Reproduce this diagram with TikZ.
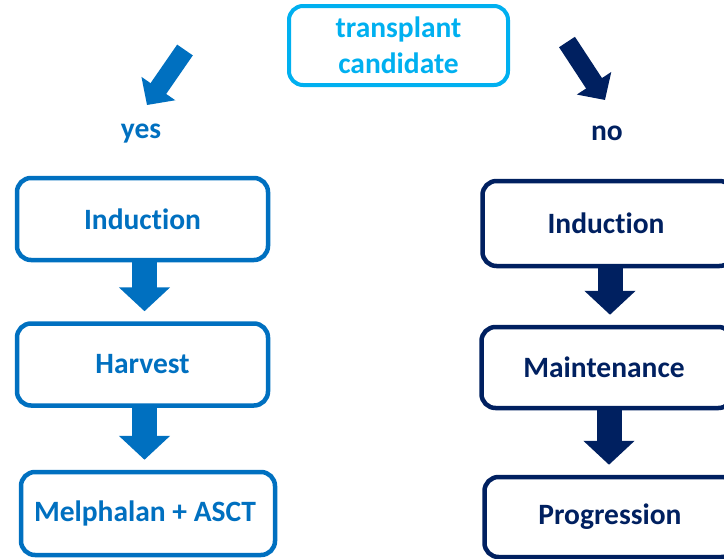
\documentclass[tikz,border=0pt]{standalone}
\usepackage{fontspec}
\setmainfont{Carlito}[Ligatures=CommonOff]
\usetikzlibrary{arrows.meta}
\definecolor{candcyan}{HTML}{00B0F0}
\definecolor{yesblue}{HTML}{0070C0}
\definecolor{nonavy}{HTML}{002060}
\tikzset{
	stagebox/.style={draw=#1, text=#1, fill=white, line width=4.5pt, rounded corners=14pt,
		minimum width=251pt, minimum height=82pt, align=center,
		font=\fontsize{29.5}{36}\selectfont\bfseries},
	branchlabel/.style={text=#1, font=\fontsize{29.5}{36}\selectfont\bfseries},
	downarrow/.style={draw=#1, line width=25pt, -{Triangle[width=50pt,length=24pt]}, shorten >=10pt},
	slantarrow/.style={draw=#1, line width=19pt, -{Triangle[width=40pt,length=20pt]}}
}

\begin{document}
\begin{tikzpicture}[x=1pt,y=-1pt]
	\useasboundingbox (0,0) rectangle (724,558);
	% top question
	\node[stagebox=candcyan, line width=4pt, minimum width=219pt, minimum height=79pt] (cand) at (398.5,45.5) {transplant\\candidate};
	\node[branchlabel=yesblue] (yes) at (141,134) {yes};
	\node[branchlabel=nonavy] (no) at (607,133) {no};
	\coordinate (yestail) at (185,50);
	\coordinate (yestip) at (147,105);
	\coordinate (notail) at (567,42);
	\coordinate (notip) at (605,100);
	\draw[slantarrow=yesblue] (yestail) -- (yestip);
	\draw[slantarrow=nonavy] (notail) -- (notip);
	% yes branch
	\node[stagebox=yesblue] (ind1) at (142.5,219) {Induction};
	\node[stagebox=yesblue] (har1) at (142.5,364.5) {Harvest};
	\node[stagebox=yesblue, minimum width=254pt, minimum height=83pt] (mel1) at (148,513.5) {Melphalan + ASCT\hspace*{6pt}};
	% no branch
	\node[stagebox=nonavy, minimum height=85pt] (ind2) at (608,223.5) {Induction\hspace*{4pt}};
	\node[stagebox=nonavy, minimum height=81pt] (mai2) at (607,367.5) {Maintenance\hspace*{6pt}};
	\node[stagebox=nonavy, minimum height=80pt] (pro2) at (610,517) {Progression};
	\foreach \a/\b/\c in {ind1/har1/yesblue, har1/mel1/yesblue, ind2/mai2/nonavy, mai2/pro2/nonavy}{
		\draw[downarrow=\c] ([xshift=2pt]\a.south) -- ([xshift=2pt]\a.south |- \b.north);}
\end{tikzpicture}
\end{document}
